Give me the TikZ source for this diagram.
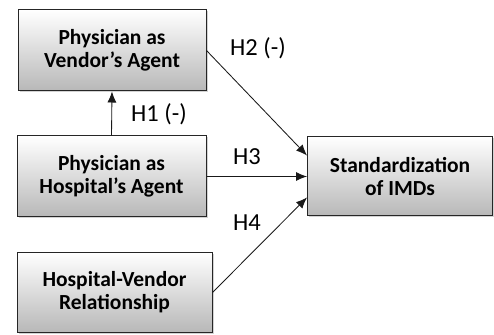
\documentclass[tikz,border=0pt]{standalone}
\usepackage{fontspec}
\setmainfont{Carlito}
\usetikzlibrary{arrows.meta,calc,shadows}
\begin{document}
\begin{tikzpicture}[x=1pt,y=1pt,
  box/.style={draw=black!85, line width=1pt, top color=white, bottom color=black!28,
    align=center, font=\bfseries\fontsize{21.5}{23}\selectfont, inner sep=0pt,
    drop shadow={shadow xshift=1.5pt, shadow yshift=-1.5pt, opacity=0.35}},
  conn/.style={draw=black!90, line width=0.85pt, -{Latex[length=11pt,width=9pt]}},
  lab/.style={font=\fontsize{24.5}{26}\selectfont, inner sep=0pt, anchor=base west}]
\useasboundingbox (0,0) rectangle (494,334);
\node[box, minimum width=188pt, minimum height=81pt] (v) at (112,283.5) {Physician as\\Vendor’s Agent};
\node[box, minimum width=189pt, minimum height=81pt] (h) at (111.5,157.5) {Physician as\\Hospital’s Agent};
\node[box, minimum width=195pt, minimum height=80pt] (r) at (114.5,41.5) {Hospital-Vendor\\Relationship};
\node[box, minimum width=185pt, minimum height=79pt] (t) at (400,157.5) {Standardization\\of IMDs};
\coordinate (t2) at ($(t.west)+(0,21)$);
\coordinate (t4) at ($(t.west)+(0,-21)$);
\draw[conn] (h.north) -- (v.south);
\draw[conn] (v.east) -- (t2);
\draw[conn] (h.east) -- (t.west);
\draw[conn] (r.east) -- (t4);
\node[lab] (l1) at (131,212) {H1 (-)};
\node[lab] (l2) at (230,278) {H2 (-)};
\node[lab] (l3) at (233,169) {H3};
\node[lab] (l4) at (233,103) {H4};
\end{tikzpicture}
\end{document}
